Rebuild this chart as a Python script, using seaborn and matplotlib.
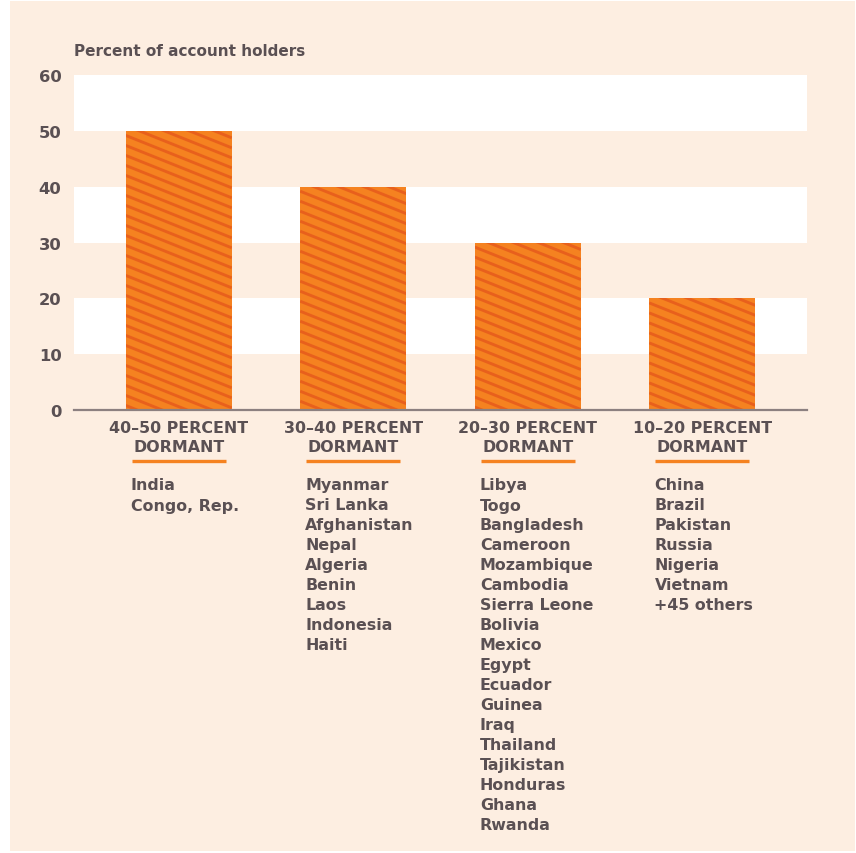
import numpy as np
import pandas as pd
import matplotlib
matplotlib.use("Agg")
import matplotlib.pyplot as plt
from matplotlib.patches import Rectangle
import seaborn as sns

## data
groups = ["40–50 PERCENT\nDORMANT", "30–40 PERCENT\nDORMANT",
          "20–30 PERCENT\nDORMANT", "10–20 PERCENT\nDORMANT"]
shares = [50, 40, 30, 20]
countries = [
    ["India", "Congo, Rep."],
    ["Myanmar", "Sri Lanka", "Afghanistan", "Nepal", "Algeria", "Benin",
     "Laos", "Indonesia", "Haiti"],
    ["Libya", "Togo", "Bangladesh", "Cameroon", "Mozambique", "Cambodia",
     "Sierra Leone", "Bolivia", "Mexico", "Egypt", "Ecuador", "Guinea",
     "Iraq", "Thailand", "Tajikistan", "Honduras", "Ghana", "Rwanda"],
    ["China", "Brazil", "Pakistan", "Russia", "Nigeria", "Vietnam",
     "+45 others"],
]
yticks = [0, 10, 20, 30, 40, 50, 60]

df = pd.DataFrame({"group": groups, "share": shares})

## colours
peach = "#fdeee1"
orange = "#f58220"
dark_orange = "#e8601c"
text_col = "#5a5053"
axis_col = "#8c8080"

sns.set_style("white")
plt.rcParams["font.family"] = ["DejaVu Sans"]
plt.rcParams["font.weight"] = "bold"

W, H = 856, 854
fig = plt.figure(figsize=(W / 100, H / 100), dpi=100, facecolor="white")
fig.patches.append(Rectangle((10 / W, 2 / H), 845 / W, 850 / H,
                             transform=fig.transFigure, facecolor=peach,
                             edgecolor="none", zorder=-5))

ax_l, ax_r, ax_t, ax_b = 74, 807, 76, 411
ax = fig.add_axes([ax_l / W, 1 - ax_b / H, (ax_r - ax_l) / W, (ax_b - ax_t) / H])
ax.set_facecolor("none")
ax_h_px = ax_b - ax_t

sns.barplot(data=df, x="group", y="share", color=orange, width=0.608,
            saturation=1, linewidth=0, ax=ax, zorder=2)
bars = list(ax.patches)
ax.set_xlim(-0.6, 3.6)
ax.set_ylim(0, 60)

# alternating white bands
for lo in [10, 30, 50]:
    ax.axhspan(lo, lo + 10, color="white", zorder=0, lw=0)

# hatching on the bars (shallow diagonal stripes)
px_x = (ax_r - ax_l) / 4.2
px_y = ax_h_px / 60
slope = 0.40 * px_x / px_y      # y units per x unit
step = 10.0 / px_y              # vertical spacing of stripes
for p in bars:
    x0, w, h = p.get_x(), p.get_width(), p.get_height()
    drop = slope * w
    yl = h + drop + 0.3 * step
    while yl > -step:
        ln, = ax.plot([x0, x0 + w], [yl, yl - drop], color=dark_orange,
                      lw=2.1, solid_capstyle="butt", zorder=3)
        ln.set_clip_path(p)
        yl -= step

# axis styling
for s in ["top", "right", "left"]:
    ax.spines[s].set_visible(False)
ax.spines["bottom"].set_color(axis_col)
ax.spines["bottom"].set_linewidth(1.6)
ax.spines["bottom"].set_zorder(4)
ax.set_yticks(yticks)
ax.set_yticklabels([str(v) for v in yticks], fontsize=11.8, fontweight="bold",
                   color=text_col)
ax.tick_params(axis="y", length=0, pad=9)
ax.tick_params(axis="x", length=0)
ax.set_xticks([])
ax.set_xlabel("")
ax.set_ylabel("")

fig.text(ax_l / W, 1 - 51 / H, "Percent of account holders", fontsize=11,
         fontweight="bold", color=text_col, va="center", ha="left")

# category labels, underline and country lists
xt = ax.get_xaxis_transform()
for i, (g, names) in enumerate(zip(groups, countries)):
    p = bars[i]
    left = p.get_x()
    line1, line2 = g.split("\n")
    ax.text(i, -18 / ax_h_px, line1, transform=xt, ha="center", va="center",
            fontsize=11.4, fontweight="bold", color=text_col)
    ax.text(i, -37 / ax_h_px, line2, transform=xt, ha="center", va="center",
            fontsize=11.4, fontweight="bold", color=text_col)
    ax.plot([left + 0.035, left + p.get_width() - 0.035],
            [-51 / ax_h_px] * 2, transform=xt, color=orange, lw=2.4,
            clip_on=False, solid_capstyle="butt")
    for j, name in enumerate(names):
        ax.text(left + 0.03, -(75 + 20 * j) / ax_h_px, name, transform=xt,
                ha="left", va="center", fontsize=11.4, fontweight="bold",
                color=text_col)

fig.savefig("out.png", dpi=100, facecolor=fig.get_facecolor())
